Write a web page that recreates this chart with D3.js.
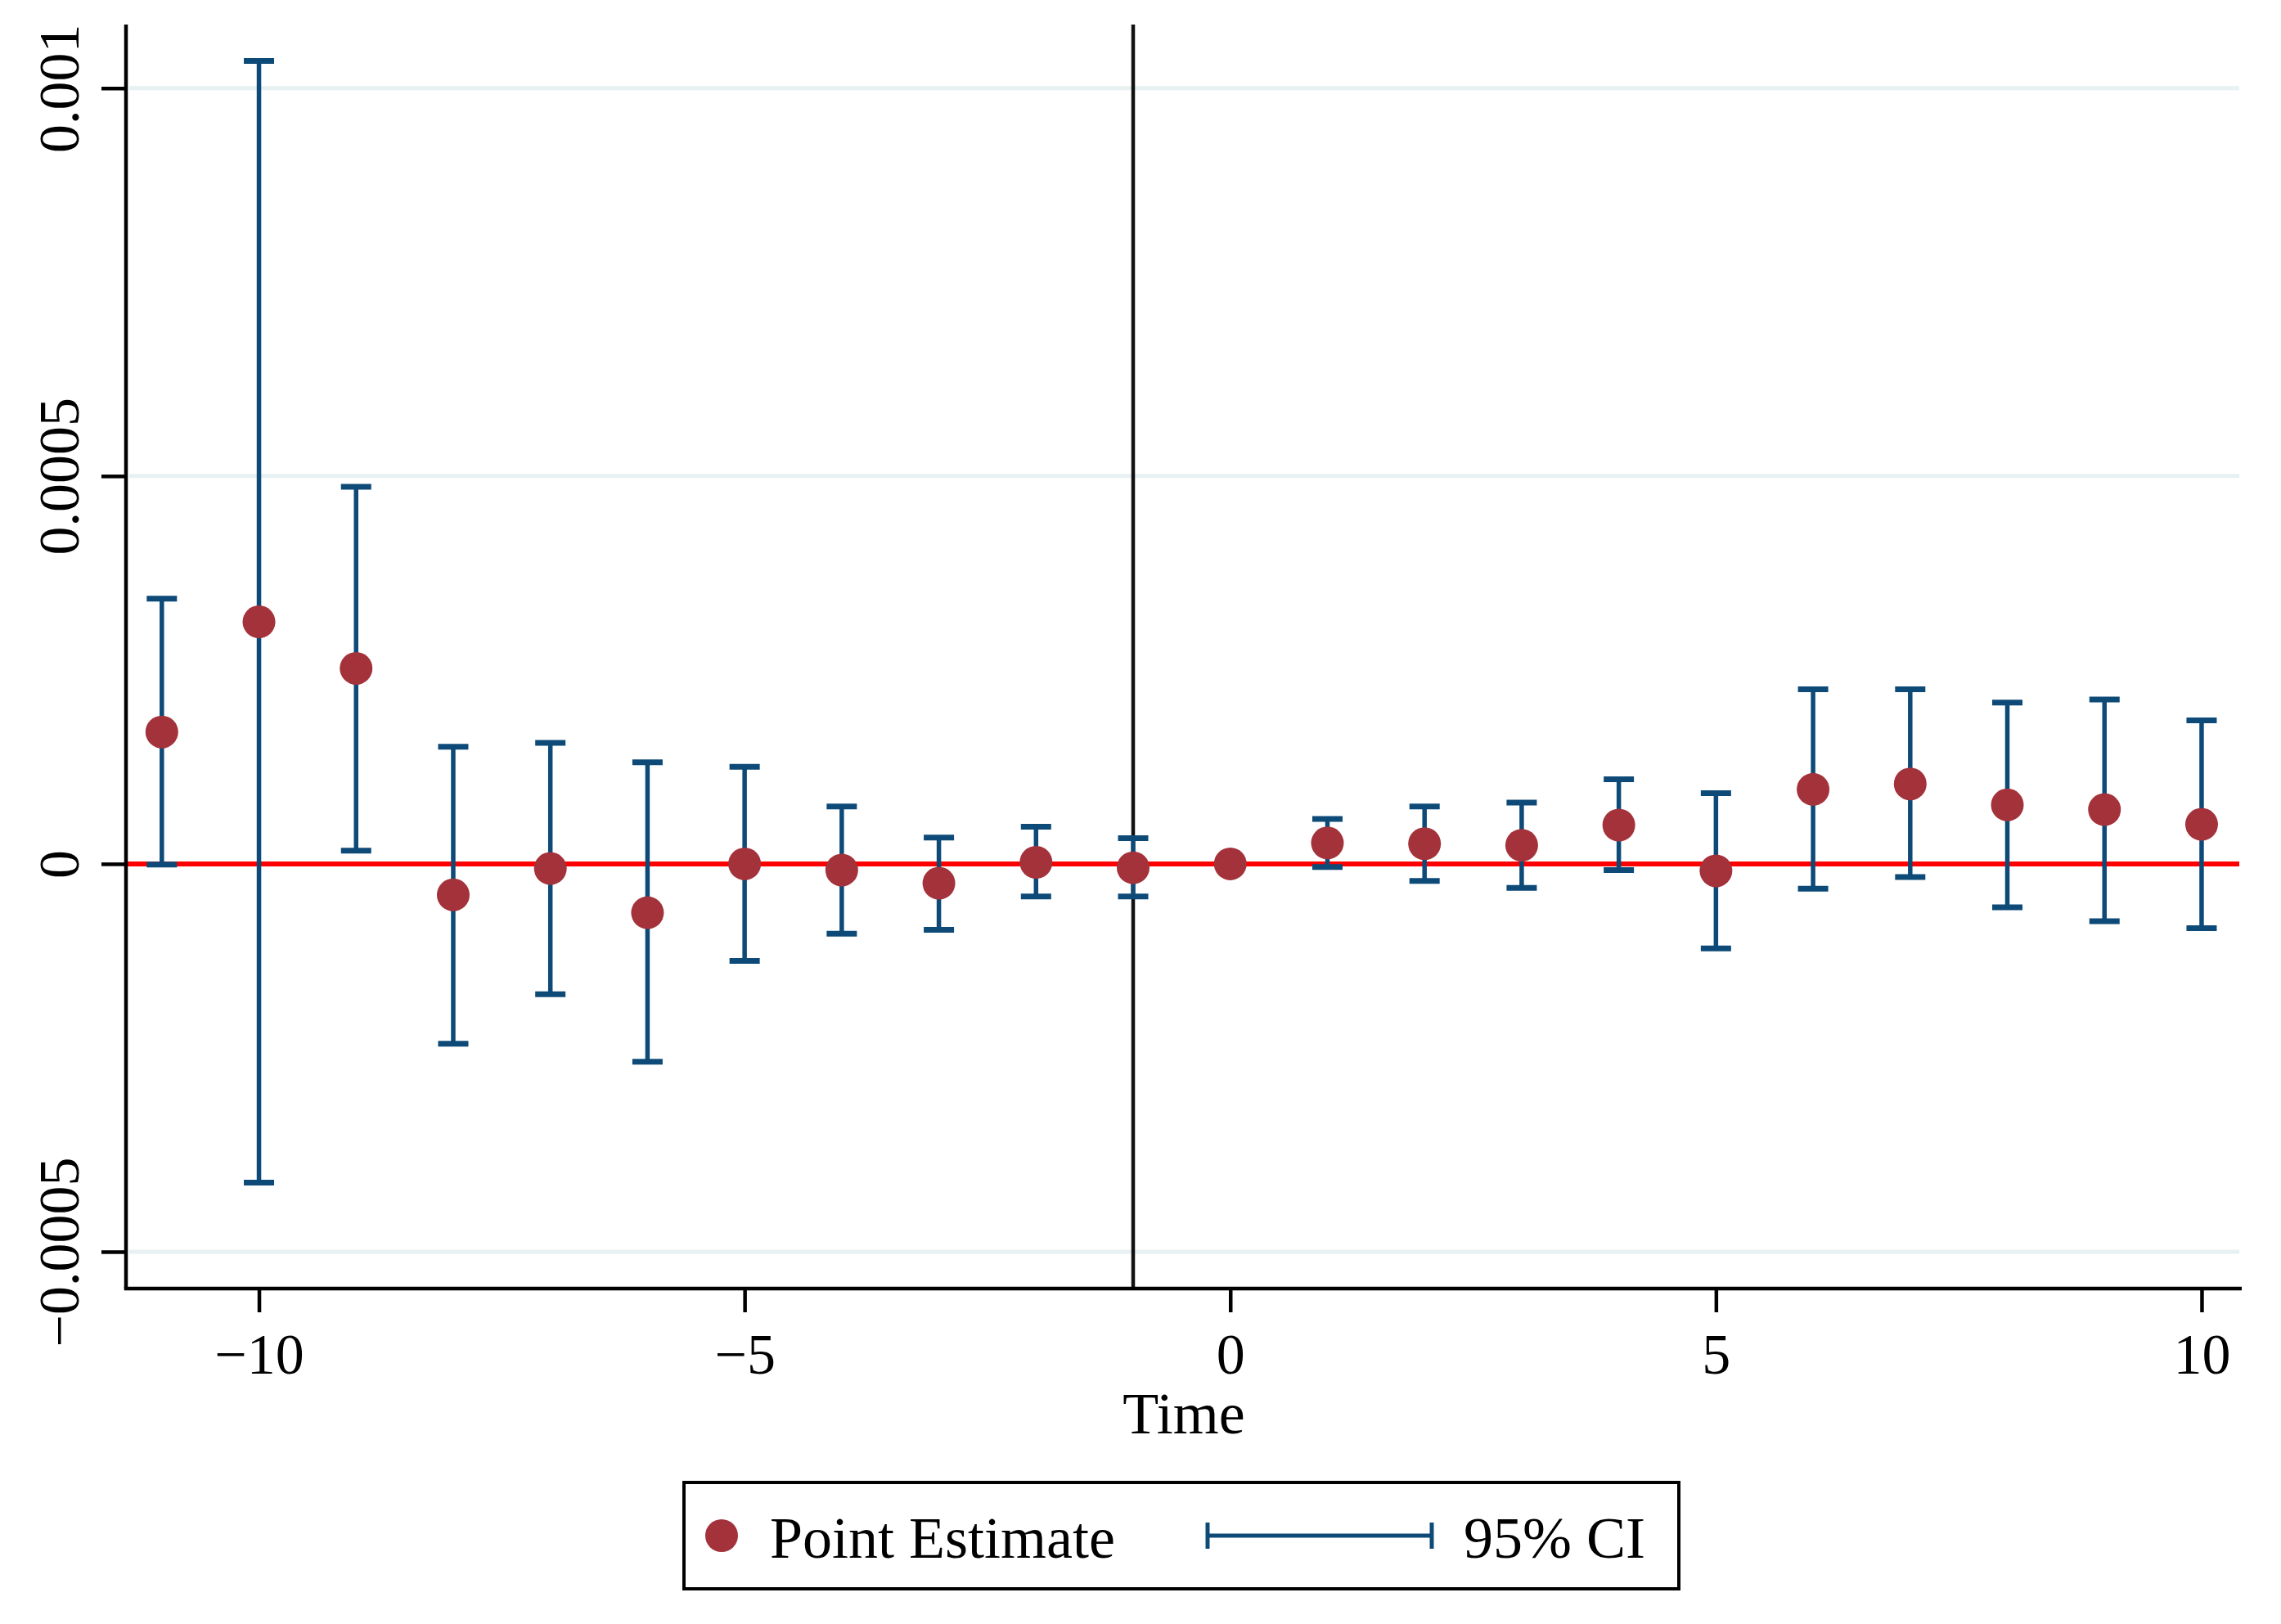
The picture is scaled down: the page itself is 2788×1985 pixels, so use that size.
<!DOCTYPE html>
<html>
<head>
<meta charset="utf-8">
<script src="https://cdn.jsdelivr.net/npm/d3@7"></script>
<style>
  html, body { margin: 0; padding: 0; background: #fff; }
  svg { display: block; }
  text { font-family: "Liberation Serif", "Times New Roman", serif; fill: #000; }
</style>
</head>
<body>
<svg id="chart" width="2788" height="1985"></svg>
<script>
  // event time relative to treatment
  var times = [-11, -10, -9, -8, -7, -6, -5, -4, -3, -2, -1, 0, 1, 2, 3, 4, 5, 6, 7, 8, 9, 10];

  // point estimates
  var estimates = [
    0.000170, 0.000312, 0.000252, -0.000040, -0.000006, -0.000063, 0.000000, -0.000008,
    -0.000025, 0.000002, -0.000005, 0.000000, 0.000027, 0.000026, 0.000024, 0.000050,
    -0.000009, 0.000096, 0.000103, 0.000076, 0.000070, 0.000051
  ];

  // 95% CI bounds (null = reference period, no interval)
  var ciLow = [
    -0.000001, -0.000411, 0.000017, -0.000232, -0.000168, -0.000255, -0.000125, -0.000090,
    -0.000085, -0.000042, -0.000042, null, -0.000004, -0.000022, -0.000031, -0.000008,
    -0.000109, -0.000032, -0.000017, -0.000056, -0.000074, -0.000083
  ];
  var ciHigh = [
    0.000342, 0.001035, 0.000486, 0.000151, 0.000156, 0.000131, 0.000125, 0.000074,
    0.000034, 0.000048, 0.000033, null, 0.000058, 0.000074, 0.000079, 0.000109,
    0.000091, 0.000225, 0.000225, 0.000208, 0.000212, 0.000185
  ];

  var xTicks = [-10, -5, 0, 5, 10];
  var yTicks = [-0.0005, 0, 0.0005, 0.001];
  var eventLine = -1;
  var legendLabels = ['Point Estimate', '95% CI'];

  var colors = {
    point: '#a3323b',
    ci: '#0e4a77',
    zero: '#ff0000',
    grid: '#e7f1f1'
  };

  var plot = { left: 154, right: 2740, top: 30, bottom: 1575 };

  var svg = d3.select('#chart');

  var x = d3.scaleLinear()
      .domain([-11.369, 10.413])
      .range([plot.left, plot.right]);

  var y = d3.scaleLinear()
      .domain([-0.0005475, 0.001082])
      .range([plot.bottom, plot.top]);

  var data = times.map(function(t, i) {
    return { t: t, est: estimates[i], lo: ciLow[i], hi: ciHigh[i] };
  });

  // grid lines
  svg.append('g')
    .selectAll('line')
    .data(yTicks.filter(function(d) { return d !== 0; }))
    .enter().append('line')
      .attr('x1', plot.left + 4)
      .attr('x2', plot.right - 3)
      .attr('y1', function(d) { return y(d); })
      .attr('y2', function(d) { return y(d); })
      .attr('stroke', colors.grid)
      .attr('stroke-width', 5);

  // zero reference line
  svg.append('line')
    .attr('x1', plot.left)
    .attr('x2', plot.right - 3)
    .attr('y1', y(0))
    .attr('y2', y(0))
    .attr('stroke', colors.zero)
    .attr('stroke-width', 6);

  // treatment line
  svg.append('line')
    .attr('x1', x(eventLine))
    .attr('x2', x(eventLine))
    .attr('y1', plot.top)
    .attr('y2', plot.bottom)
    .attr('stroke', '#111')
    .attr('stroke-width', 4.5);

  // confidence intervals
  var capHalf = 18.5;
  var ci = svg.append('g')
    .selectAll('g')
    .data(data.filter(function(d) { return d.lo !== null; }))
    .enter().append('g')
      .attr('stroke', colors.ci);

  ci.append('line')
    .attr('x1', function(d) { return x(d.t); })
    .attr('x2', function(d) { return x(d.t); })
    .attr('y1', function(d) { return y(d.hi); })
    .attr('y2', function(d) { return y(d.lo); })
    .attr('stroke-width', 5.5);

  ['lo', 'hi'].forEach(function(key) {
    ci.append('line')
      .attr('x1', function(d) { return x(d.t) - capHalf; })
      .attr('x2', function(d) { return x(d.t) + capHalf; })
      .attr('y1', function(d) { return y(d[key]); })
      .attr('y2', function(d) { return y(d[key]); })
      .attr('stroke-width', 7);
  });

  // point estimates
  svg.append('g')
    .selectAll('circle')
    .data(data)
    .enter().append('circle')
      .attr('cx', function(d) { return x(d.t); })
      .attr('cy', function(d) { return y(d.est); })
      .attr('r', 20)
      .attr('fill', colors.point);

  // axes
  var xAxis = d3.axisBottom(x)
      .tickValues(xTicks)
      .tickSize(29)
      .tickSizeOuter(0)
      .tickPadding(25);

  var yAxis = d3.axisLeft(y)
      .tickValues(yTicks)
      .tickSize(30)
      .tickSizeOuter(0)
      .tickFormat(function(d) { return d === 0 ? '0' : d3.format('~g')(d); });

  var gx = svg.append('g')
    .attr('transform', 'translate(0,' + plot.bottom + ')')
    .call(xAxis);

  var gy = svg.append('g')
    .attr('transform', 'translate(' + plot.left + ',0)')
    .call(yAxis);

  [gx, gy].forEach(function(g) {
    g.select('.domain').attr('stroke', '#000').attr('stroke-width', 4.5);
    g.selectAll('.tick line').attr('stroke', '#000').attr('stroke-width', 4.5);
    g.selectAll('.tick text')
      .attr('font-family', '"Liberation Serif", "Times New Roman", serif')
      .attr('font-size', 70)
      .attr('fill', '#000');
  });

  // extend axis lines so they meet in the corner
  gx.select('.domain').attr('d', 'M' + (plot.left - 2.25) + ',0H' + plot.right);
  gy.select('.domain').attr('d', 'M0,' + plot.top + 'V' + plot.bottom);

  // rotate y tick labels like Stata
  gy.selectAll('.tick text')
    .attr('x', 0)
    .attr('y', 0)
    .attr('dy', 0)
    .attr('text-anchor', 'middle')
    .attr('transform', 'translate(-58,0) rotate(-90)');

  svg.append('text')
    .attr('x', (plot.left + plot.right) / 2)
    .attr('y', 1752)
    .attr('text-anchor', 'middle')
    .attr('font-size', 72)
    .text('Time');

  // legend
  var legend = svg.append('g');
  legend.append('rect')
    .attr('x', 836)
    .attr('y', 1812)
    .attr('width', 1216)
    .attr('height', 130)
    .attr('fill', '#fff')
    .attr('stroke', '#000')
    .attr('stroke-width', 4);

  var ly = 1877;
  legend.append('circle')
    .attr('cx', 882)
    .attr('cy', ly)
    .attr('r', 20)
    .attr('fill', colors.point);

  legend.append('text')
    .attr('x', 941)
    .attr('y', 1904)
    .attr('font-size', 72)
    .text(legendLabels[0]);

  legend.append('line')
    .attr('x1', 1476).attr('x2', 1750)
    .attr('y1', ly).attr('y2', ly)
    .attr('stroke', colors.ci)
    .attr('stroke-width', 5);

  [1476, 1750].forEach(function(cx) {
    legend.append('line')
      .attr('x1', cx).attr('x2', cx)
      .attr('y1', ly - 16).attr('y2', ly + 16)
      .attr('stroke', colors.ci)
      .attr('stroke-width', 5);
  });

  legend.append('text')
    .attr('x', 1789)
    .attr('y', 1904)
    .attr('font-size', 72)
    .text(legendLabels[1]);
</script>
</body>
</html>
